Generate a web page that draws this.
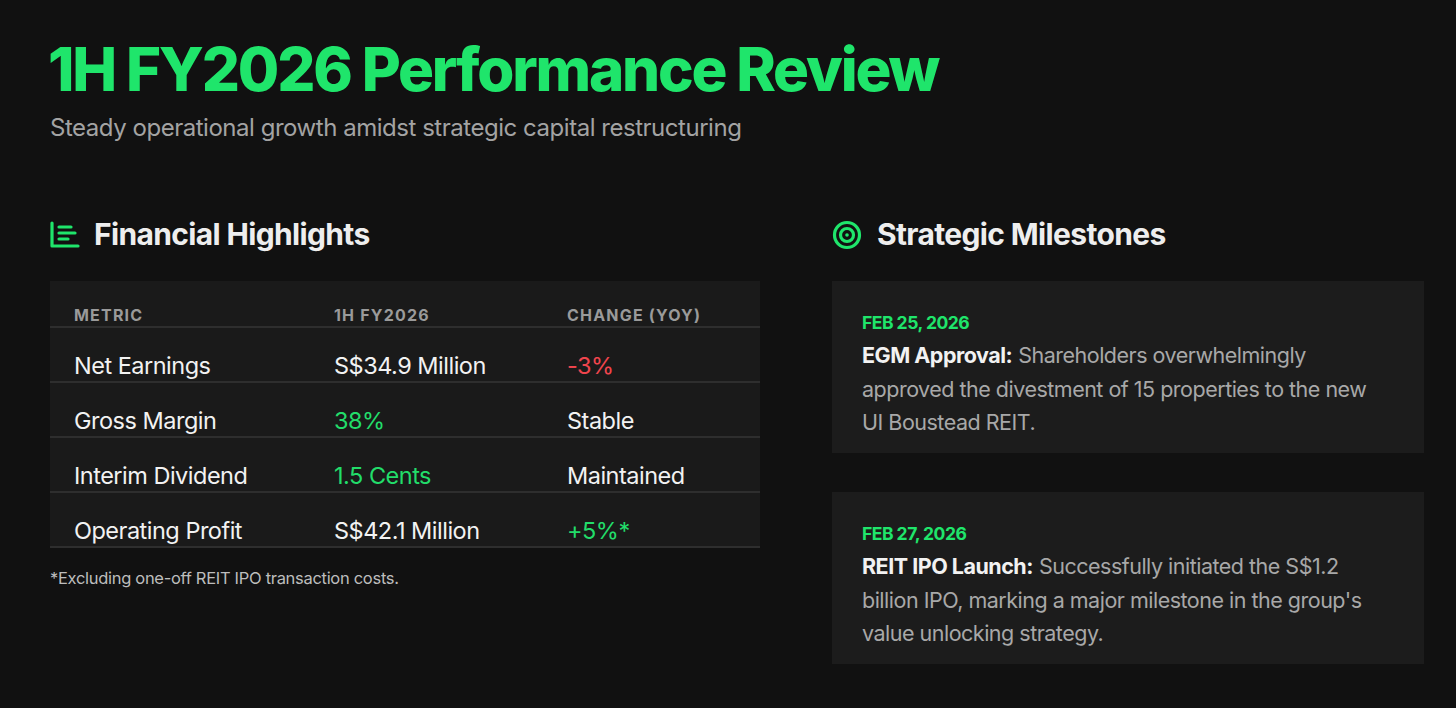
<!DOCTYPE html>
<html>
<head>
<meta charset="utf-8">
<script src="https://cdn.jsdelivr.net/npm/chart.js@4"></script>
<style>
  html, body { margin:0; padding:0; background:#111111; }
  body { width:1456px; height:708px; overflow:hidden; position:relative; font-family:Inter, "Noto Sans", sans-serif; color:#eeeeee; }
  .title { position:absolute; left:48px; top:34px; font-size:60px; font-weight:800; color:#1fe56b; letter-spacing:-2.2px; line-height:70px; white-space:nowrap; }
  .subtitle { position:absolute; left:50px; top:112px; font-size:24px; color:#a3a3a3; letter-spacing:-0.47px; line-height:32px; white-space:nowrap; }
  .h2 { position:absolute; top:214px; font-size:30px; font-weight:700; color:#eeeeee; letter-spacing:-0.65px; line-height:40px; white-space:nowrap; }
  .h2 svg { position:absolute; left:-45px; top:6px; }
  .tablebox { position:absolute; left:50px; top:281px; width:710px; height:267px; background:#1a1a1a; }
  table { border-collapse:collapse; width:710px; table-layout:fixed; }
  th { text-align:left; font-size:16px; font-weight:700; color:#9a9a9a; letter-spacing:1.2px; height:46px; padding:0 0 1px 0; line-height:20px; vertical-align:bottom; border-bottom:2px solid #2e2e2e; box-sizing:border-box; }
  td { font-size:23.5px; color:#f2f2f2; height:55px; padding:0; border-bottom:2px solid #2e2e2e; box-sizing:border-box; letter-spacing:-0.5px; vertical-align:bottom; line-height:30px; }
  .c1 { padding-left:24px; width:284px; box-sizing:border-box; }
  .c2 { width:233px; }
  .pos { color:#22dd6a; }
  .neg { color:#f0454d; }
  .note { position:absolute; left:50px; top:568px; font-size:16.5px; color:#bdbdbd; letter-spacing:-0.3px; }
  .card { position:absolute; left:832px; width:592px; height:172px; background:#1c1c1c; box-sizing:border-box; padding:30px 30px 0 30px; }
  .date { font-size:17.5px; font-weight:700; color:#1fe56b; letter-spacing:-0.5px; line-height:22px; margin-top:1px; }
  .body { font-size:21.5px; color:#a8a8a8; line-height:33.5px; letter-spacing:-0.5px; margin-top:5px; white-space:nowrap; }
  .body div { height:33.5px; }
  .body b { color:#f2f2f2; font-weight:700; margin-right:6px; }
</style>
</head>
<body>
<div class="title" id="title"></div>
<div class="subtitle" id="subtitle"></div>

<div class="h2" style="left:94px;" id="h2a">
  <svg width="32" height="32" viewBox="0 0 32 32"><path d="M3 3 V26 H29" fill="none" stroke="#1fe56b" stroke-width="3.2" stroke-linecap="round" stroke-linejoin="round"/><path d="M10 7 H22 M10 13 H26 M10 19 H19" stroke="#1fe56b" stroke-width="3.2" stroke-linecap="round"/></svg>
</div>
<div class="h2" style="left:877px;" id="h2b">
  <svg width="32" height="32" viewBox="0 0 32 32" style="left:-46px;top:5px;"><circle cx="16" cy="16" r="12.5" fill="none" stroke="#1fe56b" stroke-width="3.2"/><circle cx="16" cy="16" r="6.5" fill="none" stroke="#1fe56b" stroke-width="3.2"/><circle cx="16" cy="16" r="1.8" fill="#1fe56b"/></svg>
</div>

<div class="tablebox"><table id="tbl"></table></div>
<div class="note" id="note"></div>

<div class="card" style="top:281px;" id="card0"></div>
<div class="card" style="top:492px;" id="card1"></div>

<script>
const titleText = "1H FY2026 Performance Review";
const subtitleText = "Steady operational growth amidst strategic capital restructuring";
const sectionTitles = ["Financial Highlights", "Strategic Milestones"];
const columnHeaders = ["METRIC", "1H FY2026", "CHANGE (YOY)"];
const metrics = ["Net Earnings", "Gross Margin", "Interim Dividend", "Operating Profit"];
const values = ["S$34.9 Million", "38%", "1.5 Cents", "S$42.1 Million"];
const valueTone = ["", "pos", "pos", ""];
const changes = ["-3%", "Stable", "Maintained", "+5%*"];
const changeTone = ["neg", "", "", "pos"];
const footnote = "*Excluding one-off REIT IPO transaction costs.";
const milestoneDates = ["FEB 25, 2026", "FEB 27, 2026"];
const milestoneLabels = ["EGM Approval:", "REIT IPO Launch:"];
const milestoneLines = [
  ["Shareholders overwhelmingly", "approved the divestment of 15 properties to the new", "UI Boustead REIT."],
  ["Successfully initiated the S$1.2", "billion IPO, marking a major milestone in the group's", "value unlocking strategy."]
];

document.getElementById('title').textContent = titleText;
document.getElementById('subtitle').textContent = subtitleText;
document.getElementById('h2a').appendChild(document.createTextNode(sectionTitles[0]));
document.getElementById('h2b').appendChild(document.createTextNode(sectionTitles[1]));
document.getElementById('note').textContent = footnote;

const tbl = document.getElementById('tbl');
const hr = document.createElement('tr');
columnHeaders.forEach((h, i) => {
  const th = document.createElement('th');
  th.className = 'c' + (i + 1);
  th.textContent = h;
  hr.appendChild(th);
});
tbl.appendChild(hr);
metrics.forEach((m, i) => {
  const tr = document.createElement('tr');
  [[m, ''], [values[i], valueTone[i]], [changes[i], changeTone[i]]].forEach((c, j) => {
    const td = document.createElement('td');
    td.className = 'c' + (j + 1) + (c[1] ? ' ' + c[1] : '');
    td.textContent = c[0];
    tr.appendChild(td);
  });
  tbl.appendChild(tr);
});

milestoneDates.forEach((d, i) => {
  const card = document.getElementById('card' + i);
  const dd = document.createElement('div');
  dd.className = 'date';
  dd.textContent = d;
  const bd = document.createElement('div');
  bd.className = 'body';
  milestoneLines[i].forEach((ln, k) => {
    const row = document.createElement('div');
    if (k === 0) {
      const b = document.createElement('b');
      b.textContent = milestoneLabels[i];
      row.appendChild(b);
      const s = document.createElement('span');
      s.textContent = ln;
      row.appendChild(s);
    } else {
      row.textContent = ln;
    }
    bd.appendChild(row);
  });
  card.appendChild(dd);
  card.appendChild(bd);
});
</script>
</body>
</html>
